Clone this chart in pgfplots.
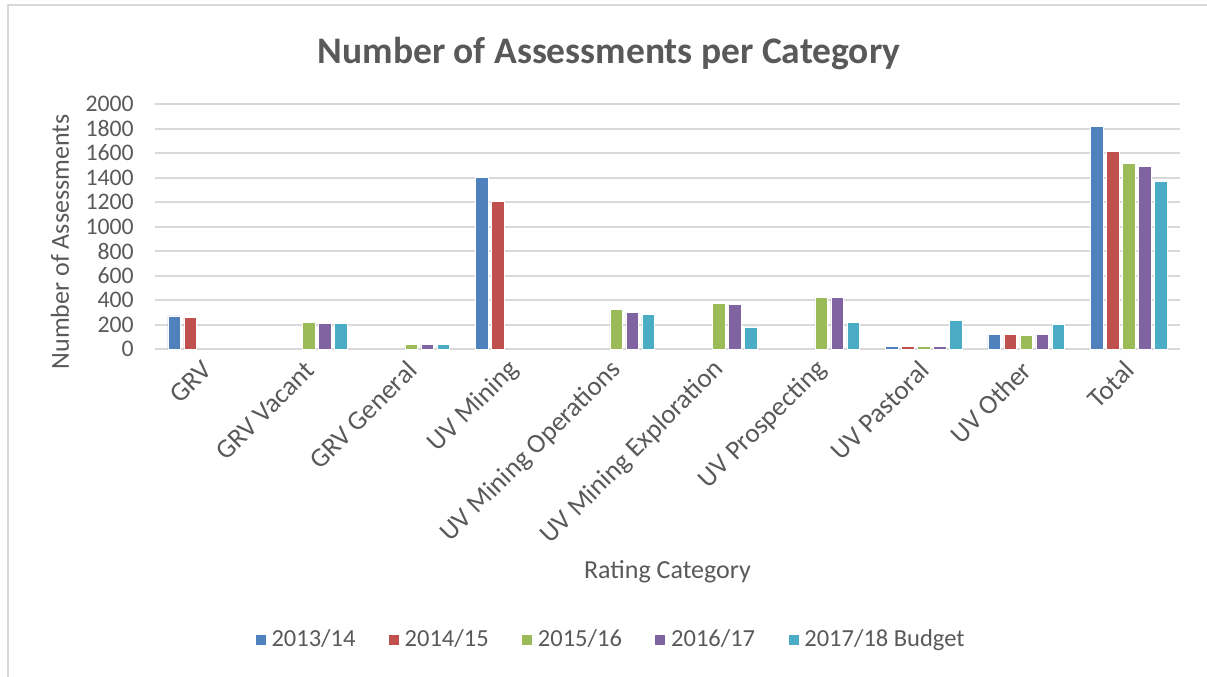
\documentclass[border=0pt]{standalone}
\usepackage{fontspec}
\setmainfont{Carlito}
\usepackage{pgfplots}
\pgfplotsset{compat=1.18}
\definecolor{cA}{HTML}{4F81BD}
\definecolor{cB}{HTML}{C0504D}
\definecolor{cC}{HTML}{9BBB59}
\definecolor{cD}{HTML}{8064A2}
\definecolor{cE}{HTML}{4BACC6}
\definecolor{txt}{HTML}{595959}
\definecolor{grd}{HTML}{D9D9D9}
\begin{document}
\begin{tikzpicture}
\useasboundingbox (0,0) rectangle (482.8pt,270.8pt);
\draw[grd, line width=0.8pt] (3.2pt,0) -- (3.2pt,268.8pt) -- (482.8pt,268.8pt);
\begin{axis}[
  at={(62pt,131.2pt)}, anchor=south west,
  scale only axis,
  width=410pt, height=98pt,
  ybar, bar width=5.1pt,
  /pgf/bar shift auto/.cd, 
  /pgfplots/ybar=1.3pt,
  xmin=-0.5, xmax=9.5,
  ymin=0, ymax=2000,
  ytick={0,200,...,2000},
  xtick={0,...,9},
  xticklabels={GRV,GRV Vacant,GRV General,UV Mining,UV Mining Operations,UV Mining Exploration,UV Prospecting,UV Pastoral,UV Other,Total},
  major tick length=0pt,
  axis line style={draw=none},
  ymajorgrids,
  major grid style={grd, line width=0.8pt},
  /pgf/number format/assume math mode=true,
  scaled y ticks=false,
  yticklabel style={font=\fontsize{9.5}{11}\selectfont, text=txt, xshift=-5pt, /pgf/number format/1000 sep={}},
  xticklabel style={font=\fontsize{10.8}{12}\selectfont, text=txt, rotate=45, anchor=east, xshift=-1pt, yshift=-5pt},
  xlabel={Rating Category},
  xlabel style={font=\fontsize{10.4}{12}\selectfont, text=txt, at={(rel axis cs:0.5,-0.91)}, anchor=center},
  ylabel={Number of Assessments},
  ylabel style={font=\fontsize{10.4}{12}\selectfont, text=txt, at={(rel axis cs:-0.0927,0.437)}, anchor=center, rotate=0},
  title={\bfseries Number of Assessments per Category},
  title style={font=\fontsize{15}{17}\selectfont, text=txt, at={(rel axis cs:0.443,1.143)}, anchor=center},
  legend columns=5,
  legend style={draw=none, fill=none, at={(rel axis cs:0.446,-1.188)}, anchor=center,
    font=\fontsize{9.8}{11}\selectfont, text=txt,
    /tikz/every even column/.append style={column sep=11pt}},
  legend image code/.code={\fill[#1] (0pt,-2.2pt) rectangle (4.4pt,2.2pt);},
  every axis plot/.append style={draw=white, line width=0.3pt},
]
\addplot[fill=cA] coordinates {(0,270) (3,1400) (7,22) (8,120) (9,1818)};
\addplot[fill=cB] coordinates {(0,260) (3,1207) (7,22) (8,120) (9,1614)};
\addplot[fill=cC] coordinates {(1,215) (2,35) (4,322) (5,369) (6,418) (7,22) (8,114) (9,1516)};
\addplot[fill=cD] coordinates {(1,212) (2,35) (4,295) (5,366) (6,421) (7,22) (8,122) (9,1492)};
\addplot[fill=cE] coordinates {(1,212) (2,35) (4,281) (5,180) (6,219) (7,230) (8,198) (9,1372)};
\legend{2013/14,2014/15,2015/16,2016/17,2017/18 Budget}
\end{axis}
\end{tikzpicture}
\end{document}
